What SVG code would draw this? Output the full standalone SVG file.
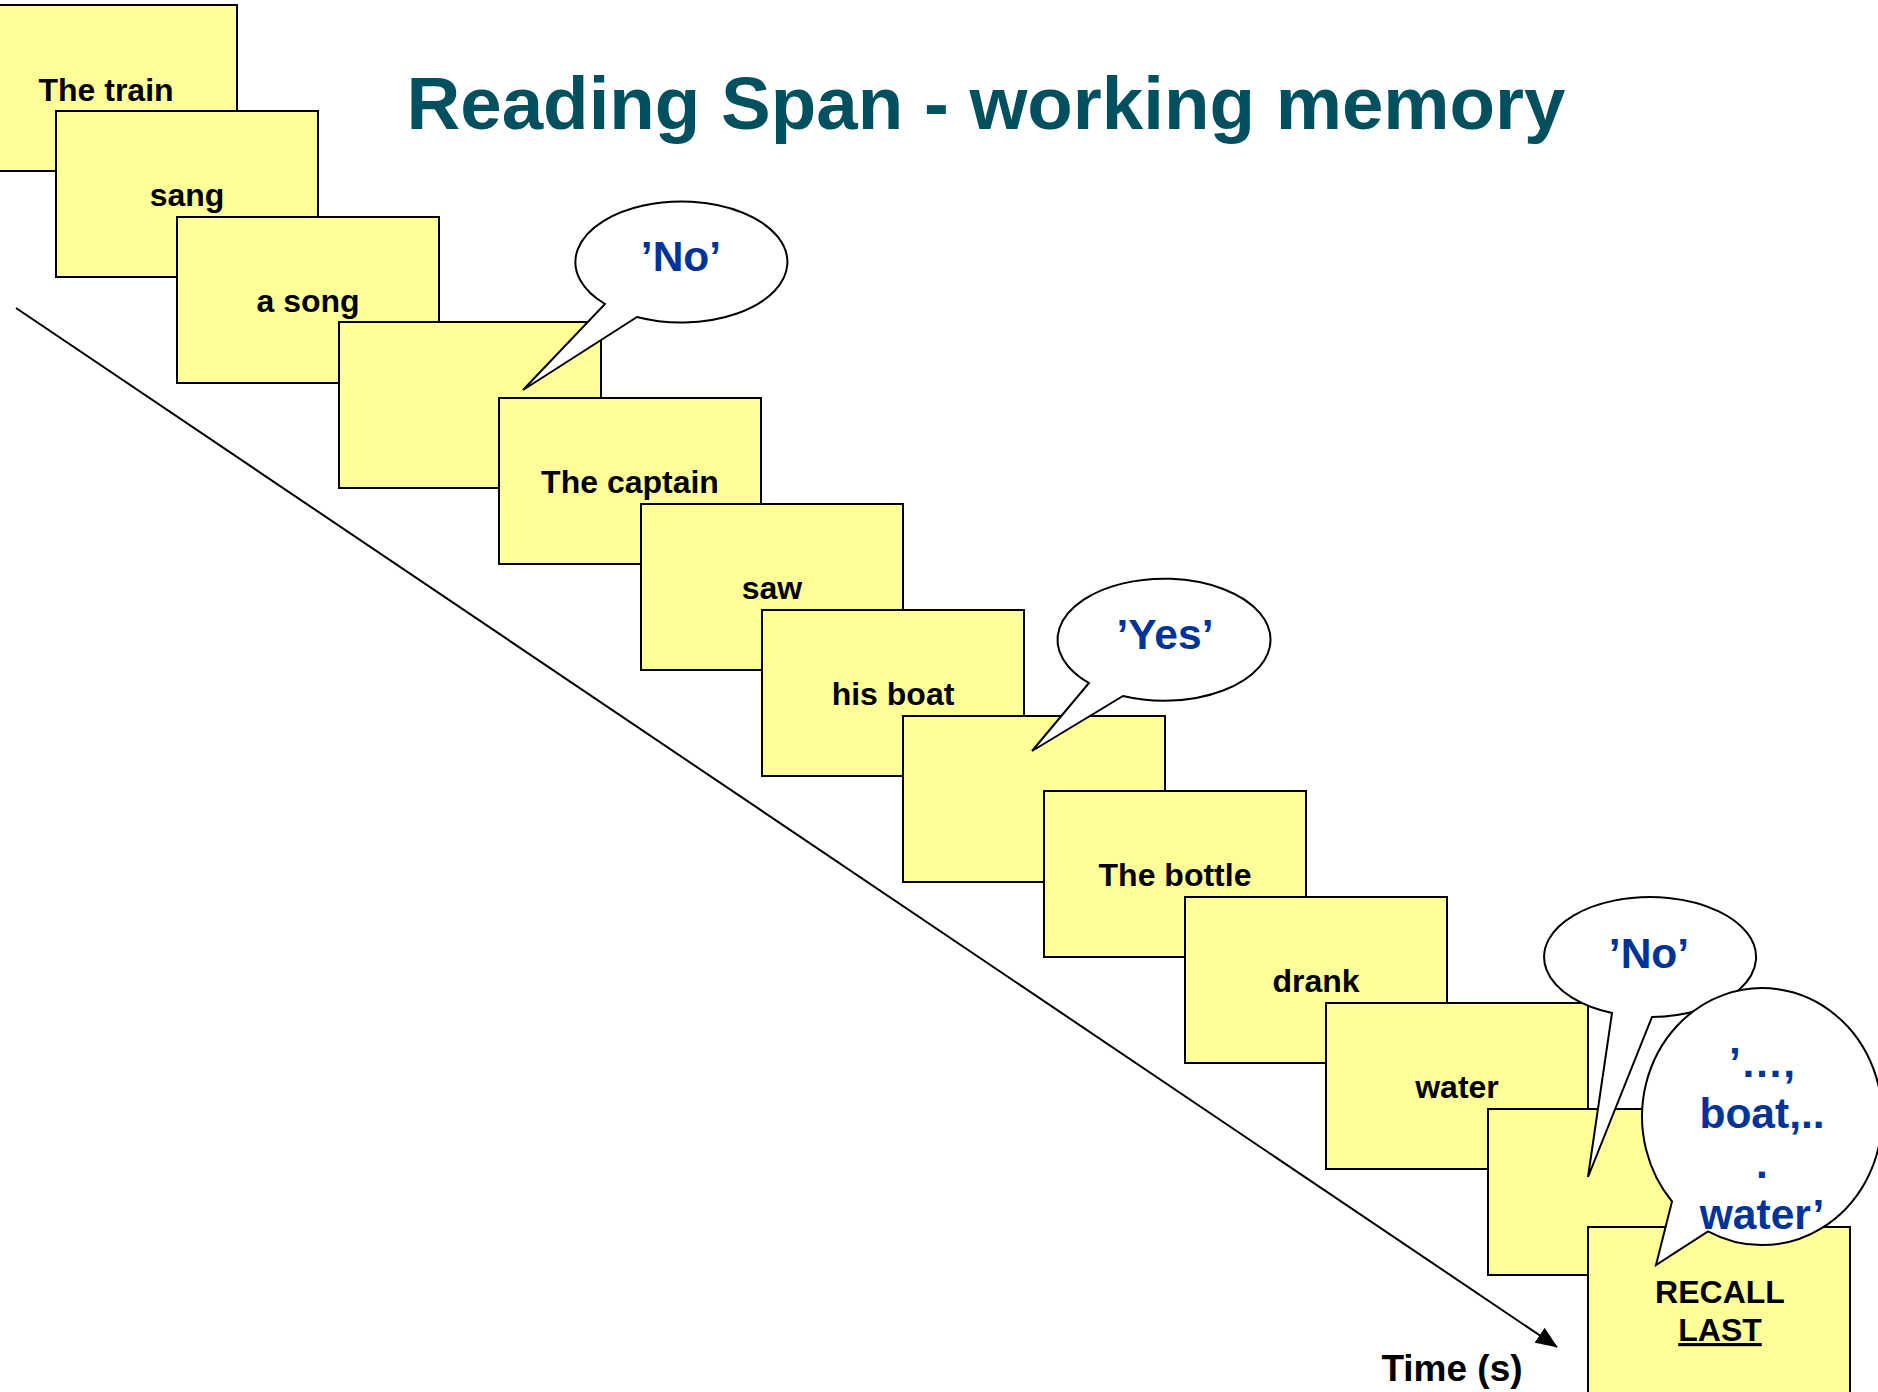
<svg xmlns="http://www.w3.org/2000/svg" width="1878" height="1392" viewBox="0 0 1878 1392">
  <style>
    .card { fill: #FFFF99; stroke: #000; stroke-width: 2; }
    .word { font-family: "Liberation Sans", Arial, sans-serif; font-weight: bold; font-size: 32px; fill: #000; text-anchor: middle; }
    .bubble { fill: #FFF; stroke: #000; stroke-width: 2; stroke-linejoin: miter; }
    .say { font-family: "Liberation Sans", Arial, sans-serif; font-weight: bold; font-size: 42.5px; fill: #003399; text-anchor: middle; }
    .title { font-family: "Liberation Sans", Arial, sans-serif; font-weight: bold; font-size: 74.5px; fill: #00505F; text-anchor: middle; }
    .axis { stroke: #000; stroke-width: 2; fill: none; }
  </style>
  <defs>
    <marker id="arrowHead" viewBox="0 0 22 18" refX="21" refY="9" markerWidth="22" markerHeight="18" markerUnits="userSpaceOnUse" orient="auto">
      <path d="M0,0 L22,9 L0,18 Z" fill="#000"/>
    </marker>
  </defs>

  <rect width="1878" height="1392" fill="#FFF"/>

  <text id="title" class="title" x="986" y="129">Reading Span - working memory</text>

  <!-- time axis -->
  <g id="connectors">
    <line class="axis" x1="16" y1="308" x2="1557" y2="1347" marker-end="url(#arrowHead)"/>
  </g>
  <text id="time-label" class="word" x="1452" y="1381" style="font-size:37px">Time (s)</text>

  <g id="card1"><rect class="card" x="-25" y="5" width="262" height="166"/><text class="word" x="106" y="101">The train</text></g>
  <g id="card2"><rect class="card" x="56" y="111" width="262" height="166"/><text class="word" x="187" y="206">sang</text></g>
  <g id="card3"><rect class="card" x="177" y="217" width="262" height="166"/><text class="word" x="308" y="312">a song</text></g>
  <g id="card4"><rect class="card" x="339" y="322" width="262" height="166"/></g>

  <g id="bubble-no-1">
    <path class="bubble" d="M605,304 A106,60.5 0 1 1 637,317 L523,390 Z"/>
    <text class="say" x="681" y="271">’No’</text>
  </g>

  <g id="card5"><rect class="card" x="499" y="398" width="262" height="166"/><text class="word" x="630" y="493">The captain</text></g>
  <g id="card6"><rect class="card" x="641" y="504" width="262" height="166"/><text class="word" x="772" y="599">saw</text></g>
  <g id="card7"><rect class="card" x="762" y="610" width="262" height="166"/><text class="word" x="893" y="705">his boat</text></g>
  <g id="card8"><rect class="card" x="903" y="716" width="262" height="166"/></g>

  <g id="bubble-yes">
    <path class="bubble" d="M1089,683 A106.5,61 0 1 1 1123,696 L1032,751 Z"/>
    <text class="say" x="1165" y="649">’Yes’</text>
  </g>

  <g id="card9"><rect class="card" x="1044" y="791" width="262" height="166"/><text class="word" x="1175" y="886">The bottle</text></g>
  <g id="card10"><rect class="card" x="1185" y="897" width="262" height="166"/><text class="word" x="1316" y="992">drank</text></g>
  <g id="card11"><rect class="card" x="1326" y="1003" width="262" height="166"/><text class="word" x="1457" y="1098">water</text></g>
  <g id="card12"><rect class="card" x="1488" y="1109" width="262" height="166"/></g>

  <g id="bubble-no-2">
    <path class="bubble" d="M1612,1013 A106,60 0 1 1 1652,1017 L1588,1177 Z"/>
    <text class="say" x="1649" y="968">’No’</text>
  </g>

  <g id="card13">
    <rect class="card" x="1588" y="1227" width="262" height="170"/>
    <text class="word" x="1720" y="1303">RECALL</text>
    <text class="word" x="1720" y="1341" text-decoration="underline">LAST</text>
  </g>

  <g id="bubble-recall">
    <path class="bubble" d="M1672,1201.5 A120,128.5 0 1 1 1708,1231.3 L1656,1265 Z"/>
    <text class="say" x="1762" y="1077">’…,</text>
    <text class="say" x="1762" y="1128">boat,..</text>
    <text class="say" x="1762" y="1178">.</text>
    <text class="say" x="1762" y="1229">water’</text>
  </g>
</svg>
